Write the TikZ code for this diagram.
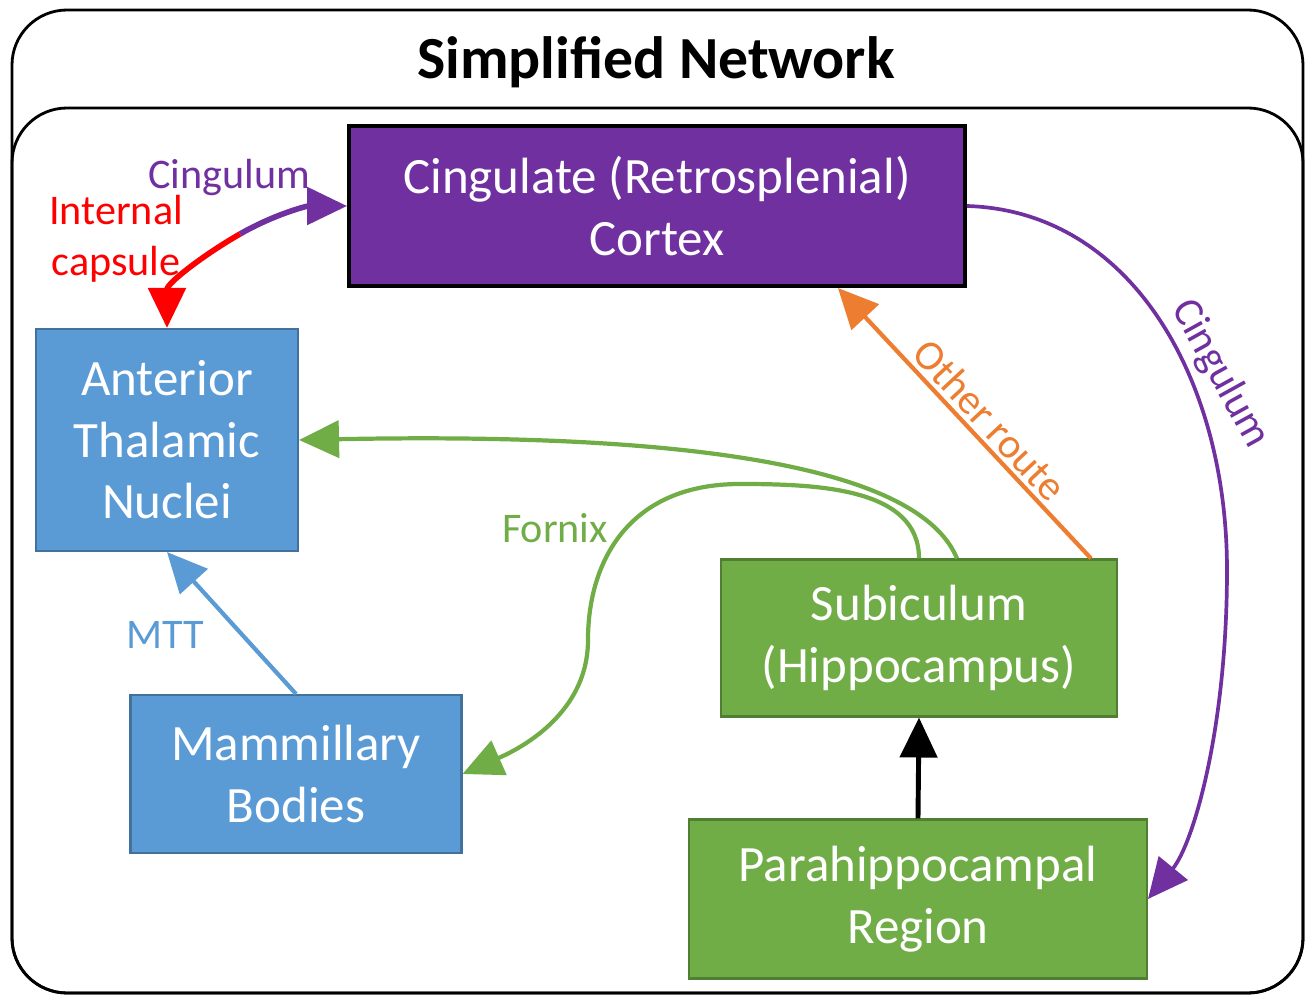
\documentclass[tikz,border=0pt]{standalone}
\usepackage{fontspec}
\setmainfont{Carlito}
\usetikzlibrary{arrows.meta}
\definecolor{cingpurple}{HTML}{7030A0}
\definecolor{thalblue}{HTML}{5B9BD5}
\definecolor{thalline}{HTML}{41719C}
\definecolor{hipgreen}{HTML}{70AD47}
\definecolor{hipline}{HTML}{507E32}
\definecolor{routeorange}{HTML}{ED7D31}
\begin{document}
\begin{tikzpicture}[x=0.02cm,y=-0.02cm,
		box/.style={draw,line width=1.2pt,text=white,align=center,inner sep=0pt,
			font=\fontsize{29}{35}\selectfont},
		lbl/.style={font=\fontsize{24}{29}\selectfont},
		tract/.style={line width=2.4pt,-{Triangle[length=0.8cm,width=0.74cm]}}]
	\useasboundingbox (0,0) rectangle (1313,996);
	% frames: outer panel and the inner network panel
	\draw[line width=1.6pt,rounded corners=1.1cm] (12,10) rectangle (1303,993);
	\draw[line width=1.6pt,rounded corners=1.1cm] (12,108) rectangle (1303,993);
	\node[font=\bfseries\fontsize{34}{40}\selectfont] (title) at (656,62) {Simplified Network};
	% regions
	\node[box,fill=cingpurple,line width=2.3pt,minimum width=12.32cm,minimum height=3.2cm]
	(cing) at (657,206) {Cingulate (Retrosplenial)\\Cortex};
	\node[box,fill=thalblue,draw=thalline,minimum width=5.24cm,minimum height=4.44cm]
	(ant) at (167,440) {Anterior\\Thalamic\\Nuclei};
	\node[box,fill=thalblue,draw=thalline,minimum width=6.62cm,minimum height=3.16cm]
	(mam) at (296,774) {Mammillary\\Bodies};
	\node[box,fill=hipgreen,draw=hipline,minimum width=7.92cm,minimum height=3.14cm]
	(sub) at (919,638) {Subiculum\\(Hippocampus)};
	\node[box,fill=hipgreen,draw=hipline,minimum width=9.16cm,minimum height=3.18cm]
	(para) at (918,899) {Parahippocampal\\Region};
	% cingulum / internal capsule pair
	\coordinate (cmid) at (240,234);
	\draw[tract,line width=3.2pt,cingpurple] (cmid) .. controls +(35,-20) and +(-40,0) .. (cing.west);
	\draw[tract,line width=3.2pt,red] (cmid) .. controls +(-35,20) and +(0,-45) .. (ant.north);
	\node[lbl,text=cingpurple] (cinglbl) at (229,177) {Cingulum};
	\node[lbl,text=red,align=center] (caplbl) at (116,239) {Internal\\capsule};
	% MTT
	\draw[tract,thalblue] (mam.north) -- (ant.south);
	\node[lbl,text=thalblue] (mttlbl) at (165,635) {MTT};
	% fornix
	\draw[tract,hipgreen] ([xshift=0.76cm]sub.north) .. controls +(-37,-90) and +(400,-8) .. (ant.east);
	\draw[tract,hipgreen] (sub.north) .. controls +(0,-70) and +(80,0) .. (740,484)
	.. controls +(-110,0) and +(0,-80) .. (588,640)
	.. controls +(0,80) and +(45,-20) .. (mam.east);
	\node[lbl,text=hipgreen] (fornixlbl) at (555,528) {Fornix};
	% other route
	\draw[tract,routeorange] ([xshift=-0.54cm]sub.north east) -- ([xshift=3.62cm]cing.south);
	\node[lbl,text=routeorange,rotate=-47] (otherlbl) at (990,420) {Other route};
	% cingulum to parahippocampal region
	\draw[tract,line width=2.1pt,cingpurple] (cing.east) .. controls +(165,5) and +(0,-190) .. (1227,570)
	.. controls +(0,160) and +(45,-55) .. (para.east);
	\node[lbl,text=cingpurple,rotate=-61] (cingrlbl) at (1220,374) {Cingulum};
	% input to subiculum
	\draw[tract,line width=2.8pt] (para.north) -- (sub.south);
\end{tikzpicture}
\end{document}
